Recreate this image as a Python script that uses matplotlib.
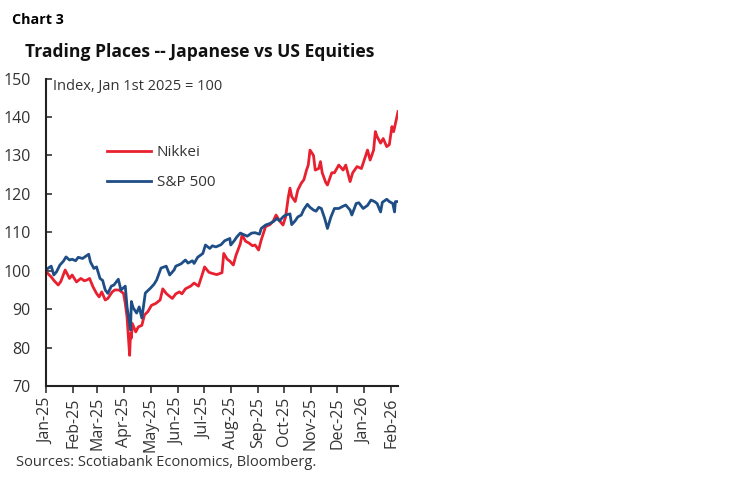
import numpy as np
import pandas as pd
import matplotlib
matplotlib.use("Agg")
from matplotlib import pyplot as plt
import matplotlib.dates as mdates

plt.rcParams['font.family'] = ['Open Sans', 'DejaVu Sans']

# Nikkei, index Jan 1st 2025 = 100
nikkei_dates = ['2025-01-01', '2025-01-03', '2025-01-07', '2025-01-10', '2025-01-15', '2025-01-18',
                '2025-01-23', '2025-01-28', '2025-01-31', '2025-02-05', '2025-02-10', '2025-02-14',
                '2025-02-17', '2025-02-20', '2025-02-24', '2025-02-28', '2025-03-03', '2025-03-06',
                '2025-03-10', '2025-03-13', '2025-03-18', '2025-03-21', '2025-03-26', '2025-03-31',
                '2025-04-02', '2025-04-04', '2025-04-07', '2025-04-08', '2025-04-09', '2025-04-10',
                '2025-04-14', '2025-04-17', '2025-04-21', '2025-04-24', '2025-04-28', '2025-05-02',
                '2025-05-07', '2025-05-12', '2025-05-15', '2025-05-19', '2025-05-22', '2025-05-26',
                '2025-05-30', '2025-06-03', '2025-06-06', '2025-06-10', '2025-06-16', '2025-06-20',
                '2025-06-25', '2025-06-30', '2025-07-02', '2025-07-07', '2025-07-11', '2025-07-16',
                '2025-07-22', '2025-07-24', '2025-07-28', '2025-07-31', '2025-08-04', '2025-08-07',
                '2025-08-12', '2025-08-14', '2025-08-18', '2025-08-22', '2025-08-26', '2025-08-29',
                '2025-09-02', '2025-09-05', '2025-09-10', '2025-09-15', '2025-09-19', '2025-09-22',
                '2025-09-26', '2025-09-30', '2025-10-03', '2025-10-06', '2025-10-08', '2025-10-10',
                '2025-10-14', '2025-10-17', '2025-10-21', '2025-10-24', '2025-10-27', '2025-10-29',
                '2025-10-31', '2025-11-04', '2025-11-06', '2025-11-10', '2025-11-12', '2025-11-14',
                '2025-11-18', '2025-11-20', '2025-11-25', '2025-11-28', '2025-12-03', '2025-12-08',
                '2025-12-11', '2025-12-16', '2025-12-19', '2025-12-24', '2025-12-29', '2026-01-05',
                '2026-01-08', '2026-01-12', '2026-01-14', '2026-01-16', '2026-01-20', '2026-01-23',
                '2026-01-27', '2026-01-30', '2026-02-02', '2026-02-04', '2026-02-09']
nikkei_vals = [100.0, 99.3, 98.4, 97.5, 96.3, 97.2,
               100.2, 98.0, 98.9, 97.1, 98.0, 97.4,
               97.6, 98.0, 95.8, 94.1, 93.2, 94.5,
               92.4, 92.8, 94.5, 95.0, 95.0, 94.1,
               91.5, 88.0, 78.0, 83.7, 82.5, 86.3,
               84.1, 85.4, 85.8, 88.5, 89.4, 91.0,
               91.5, 92.4, 95.3, 94.1, 93.5, 92.8,
               94.0, 94.5, 94.0, 95.3, 96.0, 96.8,
               96.0, 99.5, 101.0, 99.6, 99.3, 99.0,
               99.5, 104.5, 103.0, 102.5, 101.5, 104.0,
               107.0, 109.3, 107.7, 107.2, 106.5, 106.7,
               105.4, 108.0, 111.5, 112.0, 113.0, 114.5,
               113.0, 111.9, 114.0, 119.0, 121.5, 119.3,
               118.0, 121.0, 122.8, 123.7, 126.2, 127.5,
               131.4, 130.0, 126.2, 126.6, 128.4, 125.5,
               123.0, 122.3, 125.5, 125.5, 127.5, 126.2,
               127.5, 123.2, 125.5, 127.1, 126.6, 131.4,
               128.8, 131.4, 136.2, 134.9, 133.2, 134.4,
               132.3, 132.8, 137.5, 136.2, 141.4]

# S&P 500, index Jan 1st 2025 = 100
spx_dates = ['2025-01-01', '2025-01-03', '2025-01-07', '2025-01-10', '2025-01-13', '2025-01-17',
             '2025-01-21', '2025-01-24', '2025-01-28', '2025-01-31', '2025-02-04', '2025-02-07',
             '2025-02-12', '2025-02-19', '2025-02-21', '2025-02-25', '2025-02-28', '2025-03-04',
             '2025-03-07', '2025-03-10', '2025-03-13', '2025-03-17', '2025-03-20', '2025-03-25',
             '2025-03-28', '2025-04-02', '2025-04-04', '2025-04-08', '2025-04-09', '2025-04-11',
             '2025-04-15', '2025-04-18', '2025-04-21', '2025-04-25', '2025-05-01', '2025-05-05',
             '2025-05-08', '2025-05-13', '2025-05-19', '2025-05-23', '2025-05-28', '2025-05-30',
             '2025-06-05', '2025-06-10', '2025-06-13', '2025-06-18', '2025-06-20', '2025-06-24',
             '2025-06-30', '2025-07-03', '2025-07-08', '2025-07-11', '2025-07-15', '2025-07-21',
             '2025-07-25', '2025-07-31', '2025-08-01', '2025-08-05', '2025-08-08', '2025-08-12',
             '2025-08-15', '2025-08-20', '2025-08-25', '2025-08-29', '2025-09-03', '2025-09-05',
             '2025-09-10', '2025-09-15', '2025-09-19', '2025-09-23', '2025-09-26', '2025-09-30',
             '2025-10-03', '2025-10-08', '2025-10-10', '2025-10-14', '2025-10-17', '2025-10-21',
             '2025-10-24', '2025-10-28', '2025-10-31', '2025-11-04', '2025-11-07', '2025-11-10',
             '2025-11-13', '2025-11-17', '2025-11-20', '2025-11-24', '2025-11-28', '2025-12-03',
             '2025-12-08', '2025-12-11', '2025-12-16', '2025-12-18', '2025-12-23', '2025-12-26',
             '2025-12-31', '2026-01-05', '2026-01-09', '2026-01-13', '2026-01-16', '2026-01-20',
             '2026-01-22', '2026-01-27', '2026-01-30', '2026-02-03', '2026-02-05', '2026-02-06',
             '2026-02-09']
spx_vals = [100.0, 100.6, 101.2, 98.9, 99.7, 101.5,
            102.5, 103.6, 102.8, 103.0, 102.6, 103.5,
            103.2, 104.3, 102.3, 100.6, 101.0, 98.0,
            97.5, 95.0, 94.1, 96.0, 96.3, 97.8,
            95.0, 96.0, 90.6, 84.6, 92.0, 90.4,
            89.0, 90.6, 87.7, 94.2, 95.5, 96.5,
            97.6, 100.7, 101.2, 98.9, 100.2, 101.2,
            101.8, 102.8, 102.0, 102.6, 101.9, 103.5,
            104.5, 106.7, 105.8, 106.5, 106.2, 106.8,
            107.8, 108.4, 106.7, 107.8, 108.8, 109.8,
            109.5, 109.0, 109.8, 109.9, 109.5, 111.0,
            111.9, 112.3, 112.8, 113.6, 113.0, 114.0,
            114.5, 114.8, 112.0, 113.0, 114.0, 114.5,
            116.0, 117.3, 116.5, 115.8, 115.5, 116.5,
            116.2, 113.5, 111.0, 114.0, 116.2, 116.2,
            116.8, 117.1, 115.8, 114.5, 117.5, 117.7,
            116.2, 117.0, 118.4, 118.0, 117.5, 115.3,
            117.8, 118.6, 118.0, 117.5, 115.3, 118.0,
            118.0]

red = '#e8202f'
blue = '#1f4e86'

fig = plt.figure(figsize=(7.49, 4.82), dpi=100)
ax = fig.add_axes([0.0614, 0.199, 0.4700, 0.638])

ax.plot(pd.to_datetime(nikkei_dates), nikkei_vals, color=red, lw=2.0, label='Nikkei')
ax.plot(pd.to_datetime(spx_dates), spx_vals, color=blue, lw=2.0, label='S&P 500')

ax.set_ylim(70, 150)
ax.set_yticks(np.arange(70, 151, 10))
ax.set_xlim(pd.Timestamp('2025-01-01'), pd.Timestamp('2026-02-09'))
ax.xaxis.set_major_locator(mdates.MonthLocator())
ax.xaxis.set_major_formatter(mdates.DateFormatter('%b-%y'))
for lab in ax.get_xticklabels():
    lab.set_rotation(90)

for s in ['top', 'right']:
    ax.spines[s].set_visible(False)
for s in ['left', 'bottom']:
    ax.spines[s].set_linewidth(1.5)
    ax.spines[s].set_color('#222222')
ax.tick_params(axis='y', direction='in', length=4, width=1.2, labelsize=11.5, colors='#333333', pad=11)
ax.tick_params(axis='x', direction='out', length=5, width=1.2, labelsize=11.5, colors='#333333', pad=3)

ax.text(0.02, 1.0, 'Index, Jan 1st 2025 = 100', transform=ax.transAxes,
        fontsize=10.5, color='#333333', va='top', ha='left')

ax.legend(loc='upper left', bbox_to_anchor=(0.133, 0.828), frameon=False, fontsize=11,
          handlelength=2.9, handletextpad=0.4, labelspacing=1.0, labelcolor='#333333')

fig.text(0.016, 0.972, 'Chart 3', fontsize=10.3, fontweight='bold', va='top', ha='left')
fig.text(0.033, 0.893, 'Trading Places -- Japanese vs US Equities', fontsize=12.6,
         fontweight='bold', va='center', ha='left', color='#111111')
fig.text(0.022, 0.04, 'Sources: Scotiabank Economics, Bloomberg.', fontsize=10.5,
         color='#333333', va='center', ha='left')

fig.savefig('out.png', dpi=100)
